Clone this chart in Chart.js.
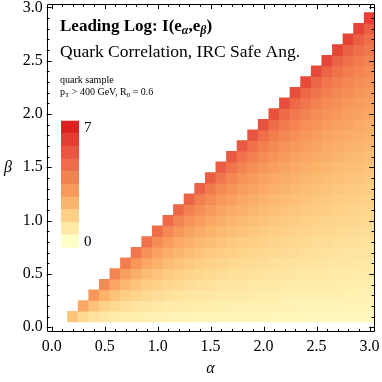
<!DOCTYPE html>
<html>
<head>
<meta charset="utf-8">
<script src="https://cdn.jsdelivr.net/npm/chart.js@4.4.1/dist/chart.umd.min.js"></script>
<style>
  html, body { margin: 0; padding: 0; background: #fff; }
  #wrap { width: 382px; height: 382px; }
</style>
</head>
<body>
<div id="wrap"><canvas id="chart"></canvas></div>
<script>
// cell centres
const alphaValues = [0.2, 0.3, 0.4, 0.5, 0.6, 0.7, 0.8, 0.9, 1.0, 1.1, 1.2, 1.3, 1.4, 1.5, 1.6,
  1.7, 1.8, 1.9, 2.0, 2.1, 2.2, 2.3, 2.4, 2.5, 2.6, 2.7, 2.8, 2.9, 3.0];
const betaValues = [0.1, 0.2, 0.3, 0.4, 0.5, 0.6, 0.7, 0.8, 0.9, 1.0, 1.1, 1.2, 1.3, 1.4, 1.5,
  1.6, 1.7, 1.8, 1.9, 2.0, 2.1, 2.2, 2.3, 2.4, 2.5, 2.6, 2.7, 2.8, 2.9];

// I(e_alpha, e_beta), one row per beta, alpha running from beta+0.1 up to 3.0
const infoRows = [
  [1.92,1.27,0.98,0.80,0.70,0.63,0.57,0.52,0.49,0.46,0.44,0.42,0.39,0.38,0.37,0.36,0.35,0.35,0.34,0.32,0.32,0.31,0.31,0.30,0.30,0.30,0.29,0.29,0.29],
  [2.70,1.92,1.52,1.27,1.10,0.98,0.89,0.80,0.75,0.70,0.66,0.63,0.59,0.57,0.55,0.52,0.50,0.49,0.48,0.46,0.45,0.44,0.43,0.42,0.41,0.39,0.39,0.38],
  [3.20,2.36,1.92,1.62,1.42,1.27,1.14,1.05,0.98,0.91,0.85,0.80,0.77,0.73,0.70,0.68,0.65,0.63,0.61,0.58,0.57,0.55,0.54,0.52,0.51,0.50,0.49],
  [3.57,2.70,2.23,1.92,1.68,1.52,1.38,1.27,1.18,1.10,1.04,0.98,0.92,0.89,0.84,0.80,0.78,0.75,0.72,0.70,0.68,0.66,0.64,0.63,0.61,0.59],
  [3.85,2.98,2.49,2.15,1.92,1.73,1.58,1.46,1.35,1.27,1.19,1.13,1.07,1.03,0.98,0.93,0.90,0.86,0.84,0.80,0.78,0.76,0.73,0.72,0.70],
  [4.08,3.20,2.70,2.36,2.11,1.92,1.75,1.62,1.52,1.42,1.34,1.27,1.20,1.14,1.10,1.05,1.01,0.98,0.94,0.91,0.89,0.85,0.83,0.80],
  [4.28,3.40,2.89,2.55,2.28,2.08,1.92,1.78,1.66,1.55,1.47,1.40,1.33,1.27,1.21,1.17,1.12,1.07,1.04,1.00,0.98,0.94,0.92],
  [4.44,3.57,3.06,2.70,2.44,2.23,2.06,1.92,1.79,1.68,1.60,1.52,1.44,1.38,1.32,1.27,1.21,1.18,1.13,1.10,1.06,1.04],
  [4.60,3.72,3.20,2.85,2.58,2.36,2.18,2.04,1.92,1.80,1.70,1.62,1.55,1.48,1.42,1.37,1.32,1.27,1.23,1.19,1.14],
  [4.72,3.85,3.33,2.98,2.70,2.49,2.30,2.15,2.02,1.92,1.81,1.73,1.65,1.58,1.52,1.46,1.40,1.35,1.31,1.27],
  [4.84,3.96,3.46,3.10,2.82,2.59,2.42,2.27,2.13,2.01,1.92,1.82,1.74,1.67,1.60,1.54,1.48,1.44,1.39],
  [4.96,4.08,3.57,3.20,2.92,2.70,2.52,2.36,2.23,2.11,2.01,1.92,1.83,1.75,1.68,1.62,1.56,1.52],
  [5.05,4.19,3.67,3.31,3.03,2.80,2.62,2.45,2.31,2.20,2.09,2.00,1.92,1.83,1.76,1.70,1.65],
  [5.15,4.28,3.76,3.40,3.12,2.89,2.70,2.55,2.41,2.28,2.17,2.08,2.00,1.92,1.85,1.78],
  [5.24,4.36,3.85,3.48,3.20,2.98,2.79,2.63,2.49,2.36,2.25,2.15,2.07,1.99,1.92],
  [5.32,4.44,3.93,3.57,3.28,3.06,2.86,2.70,2.56,2.44,2.33,2.23,2.14,2.06],
  [5.39,4.52,4.01,3.65,3.35,3.13,2.95,2.78,2.63,2.51,2.40,2.30,2.21],
  [5.46,4.60,4.08,3.72,3.44,3.20,3.02,2.85,2.70,2.58,2.47,2.36],
  [5.53,4.67,4.15,3.79,3.50,3.27,3.07,2.91,2.77,2.64,2.52],
  [5.60,4.72,4.21,3.85,3.57,3.33,3.14,2.98,2.83,2.70],
  [5.66,4.78,4.28,3.90,3.62,3.40,3.20,3.04,2.89],
  [5.72,4.84,4.34,3.96,3.68,3.46,3.26,3.10],
  [5.77,4.90,4.38,4.02,3.74,3.51,3.32],
  [5.82,4.96,4.44,4.08,3.80,3.57],
  [5.87,5.00,4.49,4.13,3.85],
  [5.93,5.05,4.55,4.19],
  [5.98,5.10,4.60],
  [6.01,5.15],
  [6.06]
];

const axisTicks = [0.0, 0.5, 1.0, 1.5, 2.0, 2.5, 3.0];
const legendLabels = ["0", "7"];
const colorMin = 0;
const colorMax = 7;
// bar legend, from 0 (bottom) to 7 (top)
const legendColors = ["#ffffc8", "#ffe9a6", "#fed087", "#fbb46b", "#f89a5b",
  "#f38251", "#ee6c49", "#e85641", "#e33c30", "#dc2121"];

const SERIF = "'Liberation Serif', 'DejaVu Serif', serif";

function hexToRgb(h) {
  return [1, 3, 5].map(i => parseInt(h.substr(i, 2), 16));
}

function colorFor(v) {
  const n = legendColors.length - 1;
  const t = Math.max(0, Math.min(1, (v - colorMin) / (colorMax - colorMin))) * n;
  const i = Math.min(Math.floor(t), n - 1);
  const f = t - i;
  const a = hexToRgb(legendColors[i]);
  const b = hexToRgb(legendColors[i + 1]);
  const c = a.map((x, k) => Math.round(x + (b[k] - x) * f));
  return `rgb(${c[0]},${c[1]},${c[2]})`;
}

// build the cells
const cells = [];
betaValues.forEach((b, j) => {
  infoRows[j].forEach((v, k) => {
    cells.push({ x: alphaValues[j + k], y: b, v: v });
  });
});

function cellRadius(ctx) {
  const xs = ctx.chart.scales.x;
  const ys = ctx.chart.scales.y;
  if (!xs || !ys) return 5;
  const w = Math.abs(xs.getPixelForValue(0.1) - xs.getPixelForValue(0));
  const h = Math.abs(ys.getPixelForValue(0.1) - ys.getPixelForValue(0));
  return (Math.max(w, h) / 2 + 0.35) / Math.SQRT1_2;
}

function drawRuns(ctx, x, y, runs) {
  runs.forEach(r => {
    ctx.font = r.font;
    ctx.fillText(r.text, x, y + (r.dy || 0));
    x += ctx.measureText(r.text).width + (r.kern || 0);
  });
}

const framePlugin = {
  id: "frame",
  afterDatasetsDraw(chart) {
    const ctx = chart.ctx;
    const a = chart.chartArea;
    const xs = chart.scales.x;
    const ys = chart.scales.y;
    ctx.save();
    ctx.strokeStyle = "#000";
    ctx.lineWidth = 1;
    ctx.beginPath();
    ctx.rect(Math.round(a.left) + 0.5, Math.round(a.top) + 0.5,
      Math.round(a.right - a.left) - 1, Math.round(a.bottom - a.top) - 1);
    ctx.stroke();

    // frame ticks on all four sides, pointing inwards
    ctx.beginPath();
    for (let i = 0; i <= 30; i++) {
      const v = i / 10;
      const len = i % 5 === 0 ? 5 : 2.8;
      const px = Math.round(xs.getPixelForValue(v)) + 0.5;
      const py = Math.round(ys.getPixelForValue(v)) + 0.5;
      ctx.moveTo(px, a.bottom); ctx.lineTo(px, a.bottom - len);
      ctx.moveTo(px, a.top); ctx.lineTo(px, a.top + len);
      ctx.moveTo(a.left, py); ctx.lineTo(a.left + len, py);
      ctx.moveTo(a.right, py); ctx.lineTo(a.right - len, py);
    }
    ctx.stroke();

    // axis names
    ctx.fillStyle = "#000";
    ctx.textAlign = "center";
    ctx.textBaseline = "alphabetic";
    ctx.font = "italic 16px " + SERIF;
    ctx.fillText("\u03b1", (a.left + a.right) / 2, 373);
    ctx.fillText("\u03b2", 8, 172);

    // bar legend
    const lx = 61, lw = 18, top = 120.7, bh = 12.66;
    const n = legendColors.length;
    for (let k = 0; k < n; k++) {
      ctx.fillStyle = legendColors[n - 1 - k];
      ctx.fillRect(lx, top + k * bh, lw, bh + 0.4);
    }
    ctx.fillStyle = "#000";
    ctx.textAlign = "left";
    ctx.textBaseline = "middle";
    ctx.font = "15px " + SERIF;
    ctx.fillText(legendLabels[1], 84, top + bh / 2 + 1);
    ctx.fillText(legendLabels[0], 84, top + (n - 0.5) * bh + 1);

    // annotations
    ctx.textBaseline = "alphabetic";
    const bold = "bold 17px " + SERIF;
    const boldSub = "bold italic 12px " + SERIF;
    drawRuns(ctx, 60, 31, [
      { text: "Leading Log: I(e", font: bold },
      { text: "\u03b1", font: boldSub, dy: 3 },
      { text: ",e", font: bold },
      { text: "\u03b2", font: boldSub, dy: 3 },
      { text: ")", font: bold }
    ]);
    ctx.font = "17.5px " + SERIF;
    ctx.fillText("Quark Correlation, IRC Safe Ang.", 60, 57);
    const small = "10px " + SERIF;
    const tiny = "7px " + SERIF;
    ctx.font = small;
    ctx.fillText("quark sample", 60, 83);
    drawRuns(ctx, 60, 95, [
      { text: "p", font: small },
      { text: "T", font: tiny, dy: 2 },
      { text: " > 400 GeV, R", font: small },
      { text: "0", font: tiny, dy: 2 },
      { text: " = 0.6", font: small }
    ]);
    ctx.restore();
  }
};

const tickFont = { family: SERIF, size: 16 };

new Chart(document.getElementById("chart"), {
  type: "scatter",
  data: {
    datasets: [{
      data: cells,
      pointStyle: "rect",
      pointRadius: cellRadius,
      pointHoverRadius: cellRadius,
      pointBorderWidth: 0,
      pointBackgroundColor: ctx => colorFor(ctx.raw.v),
      clip: 0
    }]
  },
  options: {
    responsive: true,
    maintainAspectRatio: false,
    animation: false,
    events: [],
    layout: { padding: { top: 4, right: 7.7, left: 0, bottom: 0 } },
    plugins: { legend: { display: false }, tooltip: { enabled: false } },
    scales: {
      x: {
        type: "linear",
        min: -0.047,
        max: 3.045,
        afterFit: s => { s.height = 50.3; s.paddingLeft = 0; s.paddingRight = 0; },
        afterBuildTicks: s => { s.ticks = axisTicks.map(v => ({ value: v })); },
        grid: { display: false, drawTicks: false },
        border: { display: false },
        ticks: { font: tickFont, color: "#000", padding: 5, autoSkip: false, maxRotation: 0,
          callback: v => Number(v).toFixed(1) }
      },
      y: {
        type: "linear",
        min: -0.042,
        max: 3.031,
        afterFit: s => { s.width = 46.7; s.paddingTop = 0; s.paddingBottom = 0; },
        afterBuildTicks: s => { s.ticks = axisTicks.map(v => ({ value: v })); },
        grid: { display: false, drawTicks: false },
        border: { display: false },
        ticks: { font: tickFont, color: "#000", padding: 4, autoSkip: false,
          callback: v => Number(v).toFixed(1) }
      }
    }
  },
  plugins: [framePlugin]
});
</script>
</body>
</html>
